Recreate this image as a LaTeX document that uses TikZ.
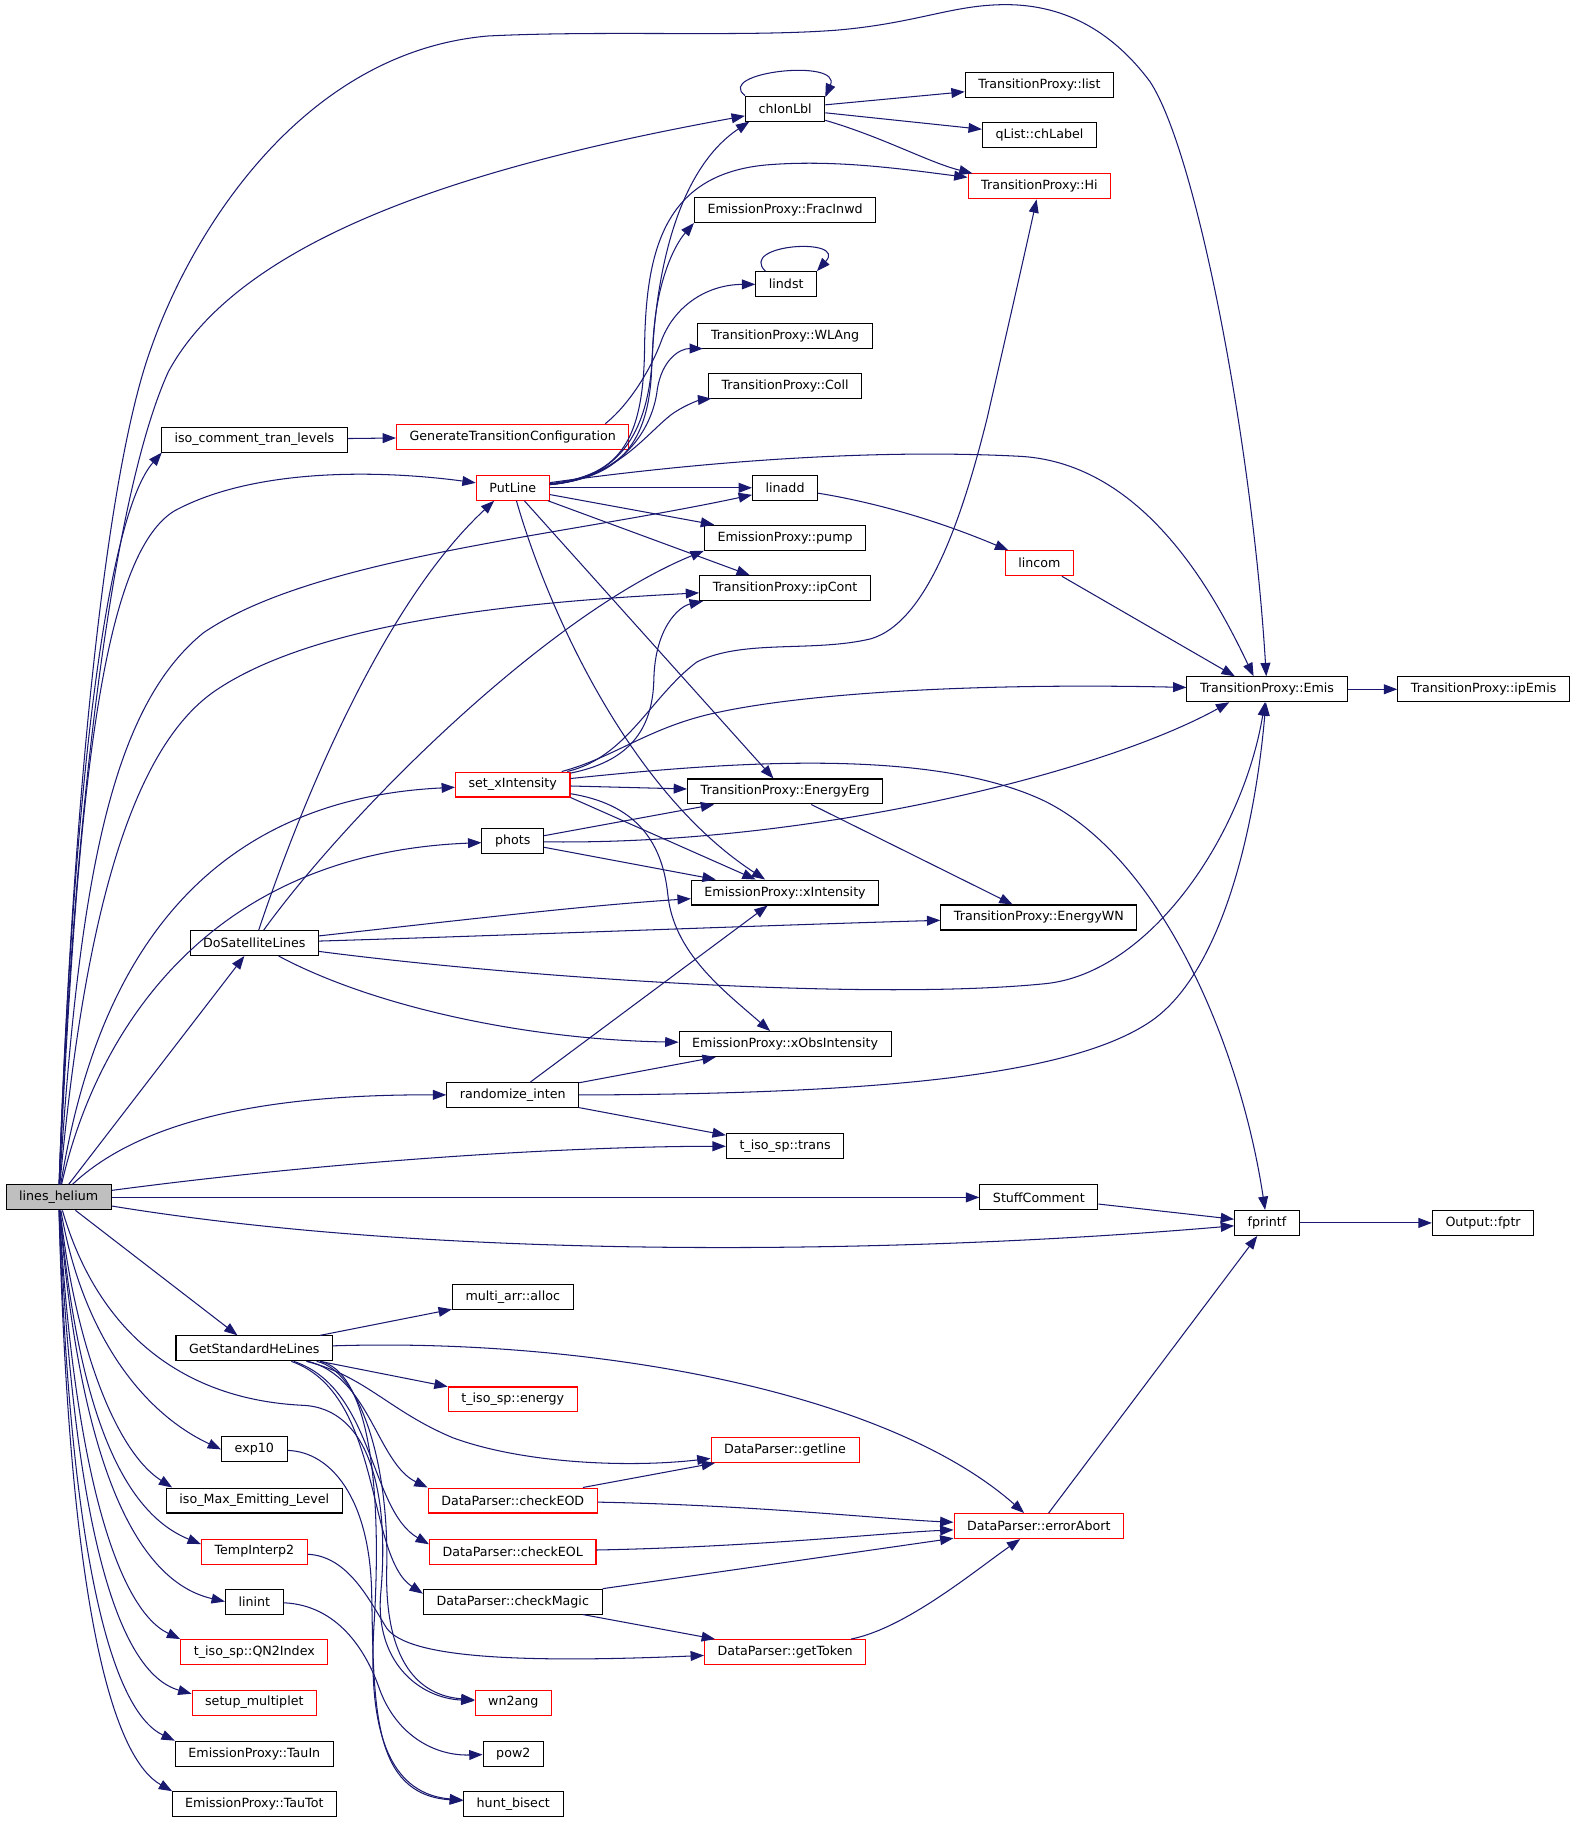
\documentclass[tikz,border=0pt]{standalone}
\usepackage{fontspec}
\setmainfont{DejaVu Sans}
\usetikzlibrary{arrows.meta}
\definecolor{edgeblue}{HTML}{191970}
\definecolor{rootgray}{HTML}{BFBFBF}
\tikzset{
  fn/.style={draw=black, line width=0.9pt, fill=white, rectangle, minimum height=21.5pt,
    inner xsep=11.3pt, inner ysep=0pt, font=\fontsize{10.9}{13}\selectfont},
  fnred/.style={fn, draw=red},
  fnroot/.style={fn, fill=rootgray},
  call/.style={draw=edgeblue, line width=0.9pt, -{Triangle[length=11.5pt,width=8.5pt]}},
}
\begin{document}
\begin{tikzpicture}[x=1pt,y=-1pt]
      \useasboundingbox (0,0) rectangle (1357,1569.7);
      \path
        (50.5,1031) node[fnroot] (helium) {lines\_helium}
        (676,93.5) node[fn] (chionlbl) {chIonLbl}
        (895,73) node[fn] (tplist) {TransitionProxy::list}
        (895,116.5) node[fn] (chlabel) {qList::chLabel}
        (895,160.5) node[fnred] (tphi) {TransitionProxy::Hi}
        (676,181) node[fn] (fracinwd) {EmissionProxy::FracInwd}
        (677,244.7) node[fn] (lindst) {lindst}
        (676,289) node[fn] (wlang) {TransitionProxy::WLAng}
        (676,332) node[fn] (coll) {TransitionProxy::Coll}
        (219,378.5) node[fn] (isocomment) {iso\_comment\_tran\_levels}
        (441.5,376) node[fnred] (gentrans) {GenerateTransitionConfiguration}
        (441.5,420) node[fnred] (putline) {PutLine}
        (676,420) node[fn] (linadd) {linadd}
        (676,463) node[fn] (pump) {EmissionProxy::pump}
        (895,485) node[fnred] (lincom) {lincom}
        (676,506.5) node[fn] (ipcont) {TransitionProxy::ipCont}
        (1091,593.5) node[fn] (emis) {TransitionProxy::Emis}
        (1277.5,593.5) node[fn] (ipemis) {TransitionProxy::ipEmis}
        (441.5,675.5) node[fnred] (setxint) {set\_xIntensity}
        (676,681.5) node[fn] (energyerg) {TransitionProxy::EnergyErg}
        (441.5,724.5) node[fn] (phots) {phots}
        (676,768.5) node[fn] (xint) {EmissionProxy::xIntensity}
        (894.5,790) node[fn] (energywn) {TransitionProxy::EnergyWN}
        (219,812) node[fn] (dosat) {DoSatelliteLines}
        (676,899) node[fn] (xobs) {EmissionProxy::xObsIntensity}
        (441.5,943) node[fn] (randint) {randomize\_inten}
        (676,987) node[fn] (trans) {t\_iso\_sp::trans}
        (894.5,1031) node[fn] (stuff) {StuffComment}
        (1091,1053) node[fn] (fprintf) {fprintf}
        (1277,1053) node[fn] (fptr) {Output::fptr}
        (441.5,1117) node[fn] (alloc) {multi\_arr::alloc}
        (219,1161) node[fn] (getstd) {GetStandardHeLines}
        (441.5,1205) node[fnred] (energy) {t\_iso\_sp::energy}
        (676,1248.5) node[fnred] (getline) {DataParser::getline}
        (219,1248) node[fn] (exp10) {exp10}
        (219,1292) node[fn] (maxemit) {iso\_Max\_Emitting\_Level}
        (441.5,1292) node[fnred] (checkeod) {DataParser::checkEOD}
        (894.5,1314) node[fnred] (errabort) {DataParser::errorAbort}
        (219,1336) node[fnred] (tempinterp) {TempInterp2}
        (441.5,1336) node[fnred] (checkeol) {DataParser::checkEOL}
        (219,1379) node[fn] (linint) {linint}
        (441.5,1379) node[fn] (checkmagic) {DataParser::checkMagic}
        (219,1422.5) node[fnred] (qn2index) {t\_iso\_sp::QN2Index}
        (676,1422.5) node[fnred] (gettoken) {DataParser::getToken}
        (219,1466) node[fnred] (setupmult) {setup\_multiplet}
        (442,1466) node[fnred] (wn2ang) {wn2ang}
        (219,1510) node[fn] (tauin) {EmissionProxy::TauIn}
        (442,1510) node[fn] (pow2) {pow2}
        (219,1553.5) node[fn] (tautot) {EmissionProxy::TauTot}
        (442,1553.5) node[fn] (huntbisect) {hunt\_bisect};
      \begin{scope}[call]
        \draw (helium) .. controls (62,700) and (90,410) .. (130,300)
          .. controls (165,200) and (260,45) .. (420,31)
          .. controls (520,26) and (640,32) .. (720,26)
          .. controls (790,20) and (820,4) .. (866,4)
          .. controls (920,4) and (960,30) .. (990,70)
          .. controls (1030,130) and (1078,380) .. (emis);
        \draw (helium) .. controls (62,720) and (95,430) .. (145,320)
          .. controls (210,200) and (420,140) .. (chionlbl);
        \draw (helium) .. controls (64,650) and (95,440) .. (isocomment.188);
        \draw (helium) .. controls (66,700) and (85,480) .. (150,440)
          .. controls (220,402) and (330,405) .. (putline);
        \draw (helium) .. controls (68,760) and (95,610) .. (175,545)
          .. controls (270,480) and (480,462) .. (linadd);
        \draw (helium) .. controls (70,820) and (105,650) .. (185,595)
          .. controls (280,530) and (480,517) .. (ipcont);
        \draw (helium) .. controls (75,880) and (140,690) .. (setxint);
        \draw (helium) .. controls (80,900) and (170,735) .. (phots);
        \draw (helium) -- (dosat);
        \draw (helium) .. controls (110,975) and (200,942) .. (randint);
        \draw (helium) .. controls (300,998) and (500,987) .. (trans);
        \draw (helium) -- (stuff);
        \draw (helium) .. controls (400,1088) and (800,1078) .. (fprintf);
        \draw (helium) -- (getstd);
        \draw (helium) .. controls (70,1145) and (120,1215) .. (exp10.west);
        \draw (helium) .. controls (65,1160) and (100,1250) .. (maxemit.171);
        \draw (helium) .. controls (66,1200) and (100,1300) .. (tempinterp.172);
        \draw (helium) .. controls (67,1240) and (110,1360) .. (linint.west);
        \draw (helium) .. controls (63,1260) and (100,1385) .. (qn2index.north west);
        \draw (helium) .. controls (63,1310) and (100,1440) .. (setupmult.172);
        \draw (helium) .. controls (61,1360) and (100,1475) .. (tauin.north west);
        \draw (helium) .. controls (60,1400) and (100,1515) .. (tautot.171);
        \draw (helium) .. controls (85,1150) and (160,1205) .. (260,1210)
          .. controls (320,1212) and (335,1290) .. (328,1370)
          .. controls (322,1430) and (360,1462) .. (wn2ang);
        \draw (chionlbl) -- (tplist);
        \draw (chionlbl) -- (chlabel);
        \draw (chionlbl) .. controls (760,118) and (800,140) .. (tphi.169);
        \draw (chionlbl.162) .. controls (615,62) and (725,50) .. (chionlbl.16);
        \draw (lindst.148) .. controls (635,210) and (730,204) .. (lindst.23);
        \draw (isocomment) -- (gentrans);
        \draw (gentrans.8) .. controls (540,350) and (560,320) .. (570,292)
          .. controls (582,262) and (610,245) .. (lindst);
        \draw (putline) .. controls (530,412) and (558,385) .. (561,320)
          .. controls (564,230) and (585,145) .. (chionlbl.200);
        \draw (putline) .. controls (530,410) and (554,385) .. (555,300)
          .. controls (556,215) and (572,150) .. (660,142)
          .. controls (720,137) and (780,146) .. (tphi);
        \draw (putline) .. controls (535,412) and (560,370) .. (562,300)
          .. controls (564,245) and (580,212) .. (fracinwd.188);
        \draw (putline) .. controls (535,412) and (562,370) .. (566,335)
          .. controls (570,310) and (585,300) .. (wlang.189);
        \draw (putline) .. controls (530,412) and (555,375) .. (578,357)
          .. controls (592,347) and (605,344) .. (coll.190);
        \draw (putline) -- (linadd);
        \draw (putline) -- (pump);
        \draw (putline) -- (ipcont);
        \draw (putline) .. controls (600,398) and (750,386) .. (880,393)
          .. controls (985,400) and (1045,510) .. (emis.136);
        \draw (putline) -- (energyerg);
        \draw (putline) .. controls (470,520) and (540,680) .. (xint);
        \draw (linadd) .. controls (780,437) and (840,462) .. (lincom);
        \draw (lincom) -- (emis.158);
        \draw (emis) -- (ipemis);
        \draw (setxint) .. controls (530,652) and (560,625) .. (620,613)
          .. controls (700,596) and (850,588) .. (emis);
        \draw (setxint) .. controls (540,652) and (560,600) .. (600,570)
          .. controls (640,550) and (700,562) .. (750,550)
          .. controls (800,535) and (830,440) .. (850,360)
          .. controls (866,290) and (882,220) .. (tphi);
        \draw (setxint) .. controls (540,656) and (562,630) .. (563,585)
          .. controls (564,540) and (585,522) .. (ipcont.189);
        \draw (setxint) .. controls (620,657) and (800,642) .. (900,690)
          .. controls (1000,740) and (1068,900) .. (fprintf);
        \draw (setxint) -- (energyerg);
        \draw (setxint.south east) -- (xint);
        \draw (setxint) .. controls (545,692) and (570,722) .. (575,770)
          .. controls (580,820) and (622,852) .. (xobs);
        \draw (phots) -- (energyerg);
        \draw (phots) .. controls (700,728) and (950,665) .. (emis.199);
        \draw (phots) -- (xint);
        \draw (dosat) .. controls (260,690) and (330,520) .. (putline.215);
        \draw (dosat) .. controls (300,700) and (470,530) .. (pump.south west);
        \draw (dosat) .. controls (400,792) and (500,780) .. (xint);
        \draw (dosat) .. controls (450,805) and (650,797) .. (energywn);
        \draw (dosat) .. controls (450,842) and (750,862) .. (900,847)
          .. controls (990,838) and (1070,720) .. (emis);
        \draw (dosat) .. controls (320,866) and (450,895) .. (xobs);
        \draw (energyerg) -- (energywn);
        \draw (randint) -- (xint);
        \draw (randint) -- (xobs);
        \draw (randint) .. controls (750,942) and (920,927) .. (990,880)
          .. controls (1050,840) and (1080,720) .. (emis);
        \draw (randint) -- (trans);
        \draw (stuff) -- (fprintf);
        \draw (fprintf) -- (fptr);
        \draw (getstd) -- (alloc);
        \draw (getstd) -- (energy);
        \draw (getstd) .. controls (500,1152) and (760,1195) .. (errabort);
        \draw (getstd) .. controls (315,1185) and (335,1215) .. (390,1238)
          .. controls (450,1260) and (540,1264) .. (getline);
        \draw (getstd) .. controls (318,1185) and (325,1260) .. (checkeod.north west);
        \draw (getstd) .. controls (322,1195) and (318,1300) .. (checkeol.175);
        \draw (getstd) .. controls (330,1200) and (315,1340) .. (checkmagic.175);
        \draw (getstd) .. controls (310,1180) and (335,1260) .. (333,1350)
          .. controls (331,1430) and (360,1460) .. (wn2ang);
        \draw (getstd) .. controls (315,1180) and (330,1270) .. (322,1400)
          .. controls (316,1500) and (340,1545) .. (huntbisect);
        \draw (exp10) .. controls (285,1250) and (318,1290) .. (320,1370)
          .. controls (322,1470) and (320,1545) .. (huntbisect);
        \draw (tempinterp) .. controls (300,1340) and (318,1378) .. (333,1402)
          .. controls (352,1428) and (450,1432) .. (gettoken);
        \draw (linint) .. controls (290,1382) and (315,1420) .. (327,1455)
          .. controls (342,1495) and (375,1512) .. (pow2);
        \draw (checkeod) -- (getline);
        \draw (checkeod) .. controls (650,1296) and (760,1308) .. (errabort);
        \draw (checkeol) .. controls (650,1332) and (760,1320) .. (errabort);
        \draw (checkmagic) -- (errabort);
        \draw (checkmagic) -- (gettoken);
        \draw (gettoken) .. controls (780,1402) and (840,1352) .. (errabort);
        \draw (errabort) -- (fprintf);
      \end{scope}
    \end{tikzpicture}
\end{document}
